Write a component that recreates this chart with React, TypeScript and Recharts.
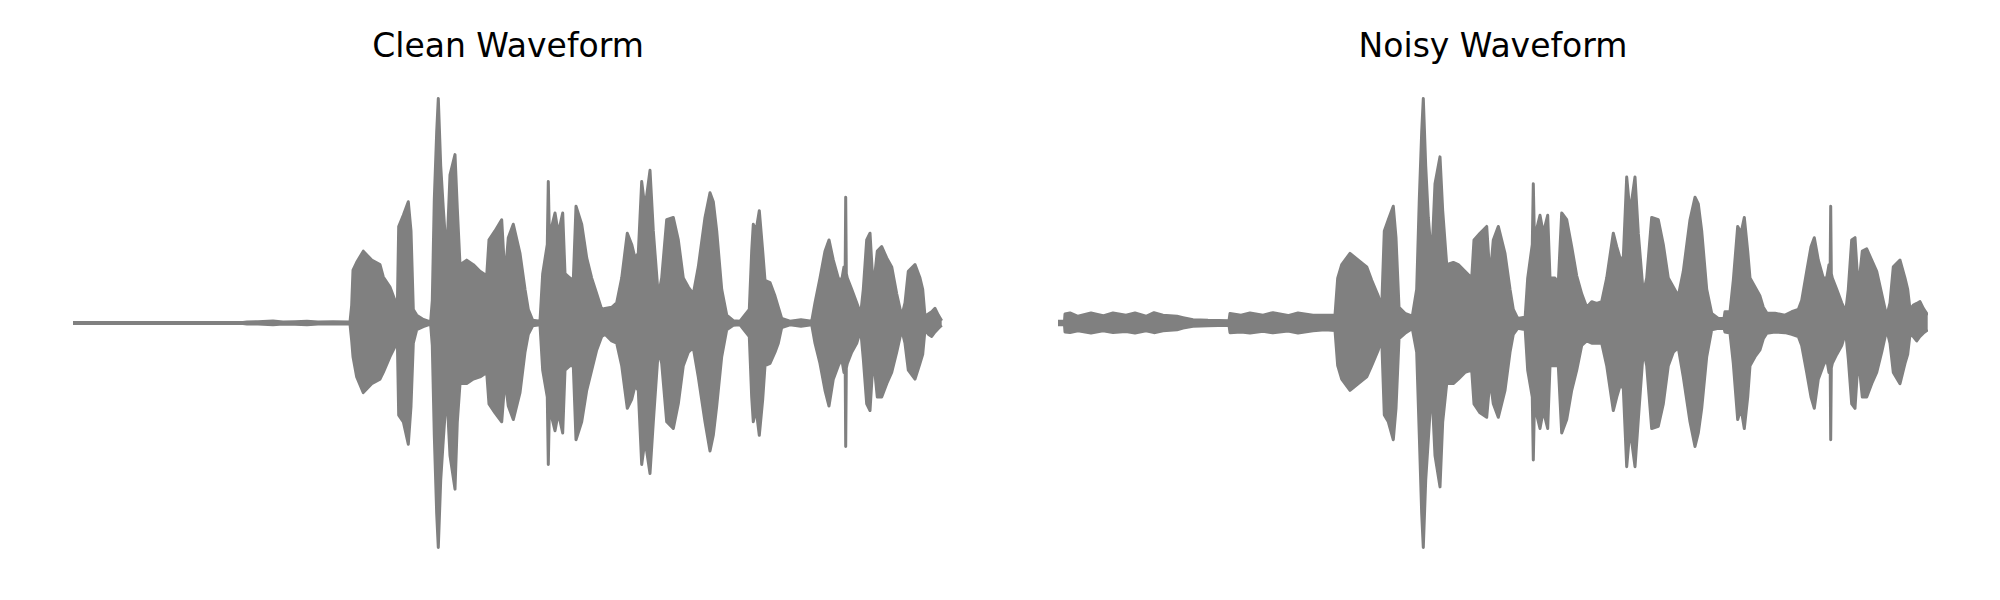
import React from 'react';
import { ComposedChart, Area, XAxis, YAxis } from 'recharts';

// Time in seconds, amplitude normalised to the peak (envelope of the waveform)
const cleanTime = [0, 1.70, 1.74, 1.85, 2.00, 2.10, 2.22, 2.34, 2.45, 2.60, 2.77, 2.787, 2.80, 2.837, 2.903, 2.987, 3.07, 3.103, 3.17, 3.22, 3.243, 3.257, 3.303, 3.353, 3.38, 3.403, 3.437, 3.503, 3.553, 3.577, 3.593, 3.613, 3.637, 3.653, 3.677, 3.703, 3.737, 3.77, 3.82, 3.843, 3.87, 3.937, 4.003, 4.07, 4.137, 4.16, 4.22, 4.287, 4.32, 4.353, 4.403, 4.47, 4.52, 4.553, 4.597, 4.67, 4.697, 4.743, 4.753, 4.763, 4.777, 4.82, 4.853, 4.897, 4.92, 4.97, 5.003, 5.03, 5.087, 5.137, 5.187, 5.237, 5.287, 5.32, 5.387, 5.437, 5.487, 5.543, 5.587, 5.62, 5.653, 5.687, 5.72, 5.77, 5.803, 5.853, 5.887, 5.937, 6.003, 6.053, 6.103, 6.153, 6.203, 6.253, 6.32, 6.37, 6.403, 6.437, 6.487, 6.537, 6.603, 6.67, 6.763, 6.787, 6.803, 6.83, 6.863, 6.897, 6.92, 6.97, 7.02, 7.053, 7.087, 7.17, 7.28, 7.387, 7.42, 7.47, 7.52, 7.56, 7.603, 7.653, 7.687, 7.71, 7.722, 7.727, 7.733, 7.743, 7.787, 7.837, 7.877, 7.903, 7.937, 7.97, 8.003, 8.043, 8.087, 8.137, 8.187, 8.237, 8.287, 8.32, 8.353, 8.42, 8.47, 8.497, 8.52, 8.553, 8.587, 8.62, 8.653, 8.687];
const cleanUpper = [0.002, 0.002, 0.005, 0.006, 0.009, 0.005, 0.006, 0.008, 0.005, 0.006, 0.005, 0.08, 0.235, 0.27, 0.32, 0.28, 0.26, 0.205, 0.16, 0.10, 0.06, 0.43, 0.48, 0.54, 0.41, 0.06, 0.035, 0.016, 0.008, 0.008, 0.10, 0.55, 0.85, 1.0, 0.70, 0.51, 0.29, 0.66, 0.75, 0.51, 0.26, 0.28, 0.26, 0.23, 0.21, 0.37, 0.41, 0.46, 0.20, 0.38, 0.44, 0.31, 0.15, 0.06, 0.012, 0.008, 0.22, 0.35, 0.63, 0.40, 0.41, 0.49, 0.40, 0.49, 0.22, 0.20, 0.19, 0.52, 0.44, 0.29, 0.20, 0.13, 0.06, 0.065, 0.07, 0.09, 0.20, 0.40, 0.35, 0.29, 0.31, 0.63, 0.51, 0.68, 0.41, 0.12, 0.20, 0.46, 0.47, 0.37, 0.20, 0.16, 0.13, 0.25, 0.47, 0.58, 0.54, 0.41, 0.15, 0.035, 0.01, 0.008, 0.06, 0.32, 0.44, 0.41, 0.50, 0.32, 0.19, 0.18, 0.12, 0.07, 0.02, 0.008, 0.015, 0.008, 0.09, 0.20, 0.32, 0.37, 0.28, 0.20, 0.19, 0.25, 0.25, 0.56, 0.22, 0.20, 0.15, 0.09, 0.04, 0.15, 0.37, 0.40, 0.15, 0.32, 0.34, 0.29, 0.25, 0.13, 0.03, 0.09, 0.23, 0.26, 0.20, 0.15, 0.03, 0.04, 0.05, 0.065, 0.035, 0.01];
const cleanLower = [-0.002, -0.002, -0.005, -0.005, -0.008, -0.005, -0.006, -0.008, -0.005, -0.005, -0.005, -0.08, -0.15, -0.24, -0.31, -0.27, -0.25, -0.22, -0.15, -0.105, -0.06, -0.41, -0.44, -0.54, -0.37, -0.09, -0.03, -0.016, -0.008, -0.008, -0.10, -0.50, -0.85, -1.0, -0.70, -0.52, -0.30, -0.59, -0.74, -0.44, -0.27, -0.27, -0.25, -0.24, -0.22, -0.36, -0.40, -0.44, -0.25, -0.37, -0.43, -0.31, -0.13, -0.05, -0.012, -0.008, -0.21, -0.33, -0.63, -0.40, -0.40, -0.48, -0.40, -0.49, -0.21, -0.19, -0.19, -0.52, -0.44, -0.30, -0.21, -0.12, -0.06, -0.05, -0.08, -0.09, -0.19, -0.38, -0.34, -0.28, -0.30, -0.63, -0.52, -0.67, -0.44, -0.12, -0.18, -0.44, -0.47, -0.36, -0.19, -0.13, -0.11, -0.24, -0.44, -0.57, -0.50, -0.37, -0.15, -0.03, -0.01, -0.008, -0.06, -0.33, -0.44, -0.38, -0.50, -0.34, -0.19, -0.18, -0.13, -0.09, -0.02, -0.008, -0.015, -0.008, -0.09, -0.18, -0.30, -0.37, -0.25, -0.19, -0.16, -0.22, -0.20, -0.55, -0.20, -0.18, -0.13, -0.09, -0.03, -0.16, -0.36, -0.39, -0.15, -0.33, -0.33, -0.27, -0.22, -0.13, -0.03, -0.09, -0.21, -0.25, -0.18, -0.14, -0.03, -0.05, -0.06, -0.04, -0.024, -0.01];

const noisyTime = [0, 0.065, 0.07, 0.12, 0.20, 0.33, 0.45, 0.55, 0.68, 0.77, 0.88, 0.96, 1.05, 1.19, 1.25, 1.35, 1.50, 1.71, 1.72, 1.83, 1.92, 2.05, 2.15, 2.30, 2.40, 2.55, 2.67, 2.77, 2.797, 2.837, 2.92, 3.003, 3.087, 3.137, 3.203, 3.237, 3.263, 3.303, 3.353, 3.38, 3.41, 3.47, 3.543, 3.587, 3.613, 3.637, 3.653, 3.677, 3.703, 3.737, 3.77, 3.82, 3.847, 3.887, 3.953, 4.003, 4.07, 4.137, 4.16, 4.22, 4.287, 4.32, 4.353, 4.403, 4.47, 4.52, 4.553, 4.597, 4.653, 4.67, 4.697, 4.743, 4.753, 4.763, 4.777, 4.82, 4.853, 4.897, 4.92, 4.97, 5.003, 5.037, 5.087, 5.137, 5.187, 5.237, 5.287, 5.337, 5.387, 5.437, 5.487, 5.553, 5.587, 5.62, 5.653, 5.687, 5.72, 5.77, 5.803, 5.853, 5.887, 5.937, 6.003, 6.053, 6.103, 6.153, 6.203, 6.253, 6.32, 6.37, 6.403, 6.437, 6.487, 6.537, 6.603, 6.66, 6.67, 6.72, 6.753, 6.797, 6.83, 6.863, 6.897, 6.92, 6.97, 7.02, 7.053, 7.087, 7.17, 7.27, 7.337, 7.403, 7.437, 7.487, 7.53, 7.563, 7.603, 7.653, 7.687, 7.71, 7.722, 7.727, 7.733, 7.743, 7.787, 7.837, 7.877, 7.903, 7.937, 7.97, 8.003, 8.043, 8.087, 8.137, 8.187, 8.237, 8.287, 8.32, 8.353, 8.42, 8.47, 8.497, 8.52, 8.553, 8.587, 8.62, 8.653, 8.697];
const noisyUpper = [0.008, 0.008, 0.04, 0.045, 0.03, 0.045, 0.032, 0.045, 0.035, 0.045, 0.03, 0.046, 0.035, 0.03, 0.024, 0.015, 0.012, 0.01, 0.042, 0.035, 0.045, 0.035, 0.046, 0.033, 0.045, 0.035, 0.035, 0.035, 0.20, 0.26, 0.31, 0.28, 0.25, 0.19, 0.12, 0.07, 0.41, 0.46, 0.52, 0.38, 0.07, 0.043, 0.03, 0.15, 0.55, 0.85, 1.0, 0.70, 0.47, 0.28, 0.62, 0.74, 0.50, 0.26, 0.27, 0.26, 0.23, 0.20, 0.37, 0.40, 0.43, 0.20, 0.37, 0.43, 0.31, 0.15, 0.06, 0.02, 0.025, 0.015, 0.20, 0.35, 0.62, 0.40, 0.40, 0.48, 0.40, 0.48, 0.20, 0.20, 0.18, 0.49, 0.46, 0.34, 0.21, 0.13, 0.07, 0.095, 0.087, 0.095, 0.20, 0.40, 0.34, 0.29, 0.29, 0.65, 0.49, 0.65, 0.40, 0.13, 0.20, 0.47, 0.46, 0.35, 0.20, 0.16, 0.12, 0.23, 0.46, 0.56, 0.53, 0.41, 0.15, 0.043, 0.02, 0.02, 0.05, 0.05, 0.19, 0.43, 0.40, 0.47, 0.32, 0.20, 0.16, 0.12, 0.07, 0.045, 0.043, 0.035, 0.05, 0.06, 0.10, 0.23, 0.34, 0.38, 0.28, 0.20, 0.20, 0.26, 0.26, 0.52, 0.22, 0.20, 0.15, 0.09, 0.05, 0.15, 0.37, 0.38, 0.15, 0.32, 0.33, 0.28, 0.23, 0.13, 0.03, 0.09, 0.25, 0.28, 0.20, 0.15, 0.06, 0.08, 0.087, 0.095, 0.065, 0.035];
const noisyLower = [-0.008, -0.008, -0.04, -0.042, -0.035, -0.045, -0.035, -0.042, -0.038, -0.045, -0.035, -0.043, -0.035, -0.03, -0.022, -0.015, -0.012, -0.01, -0.043, -0.04, -0.045, -0.037, -0.044, -0.036, -0.045, -0.035, -0.03, -0.033, -0.19, -0.25, -0.30, -0.27, -0.24, -0.19, -0.12, -0.07, -0.41, -0.44, -0.52, -0.38, -0.07, -0.046, -0.024, -0.13, -0.50, -0.85, -1.0, -0.70, -0.52, -0.28, -0.59, -0.73, -0.44, -0.27, -0.27, -0.25, -0.22, -0.21, -0.36, -0.40, -0.42, -0.25, -0.36, -0.42, -0.30, -0.13, -0.05, -0.024, -0.028, -0.015, -0.21, -0.33, -0.61, -0.39, -0.39, -0.47, -0.39, -0.47, -0.19, -0.19, -0.19, -0.49, -0.43, -0.30, -0.21, -0.10, -0.08, -0.09, -0.09, -0.09, -0.19, -0.39, -0.33, -0.28, -0.29, -0.64, -0.47, -0.64, -0.43, -0.12, -0.19, -0.47, -0.46, -0.36, -0.19, -0.13, -0.11, -0.24, -0.44, -0.55, -0.49, -0.38, -0.15, -0.03, -0.024, -0.024, -0.04, -0.045, -0.18, -0.43, -0.38, -0.47, -0.33, -0.19, -0.15, -0.12, -0.07, -0.046, -0.04, -0.043, -0.05, -0.06, -0.10, -0.22, -0.33, -0.38, -0.25, -0.19, -0.16, -0.22, -0.20, -0.52, -0.20, -0.18, -0.14, -0.10, -0.04, -0.16, -0.36, -0.38, -0.15, -0.33, -0.33, -0.27, -0.22, -0.13, -0.03, -0.09, -0.22, -0.27, -0.18, -0.14, -0.05, -0.06, -0.08, -0.06, -0.045, -0.03];

const panelTitles = ['Clean Waveform', 'Noisy Waveform'];
const timeDomain: [number, number] = [0, 8.7];

const build = (t: number[], up: number[], lo: number[]) =>
  t.map((x, i) => ({ t: x, range: [lo[i], up[i]] }));

const cleanData = build(cleanTime, cleanUpper, cleanLower);
const noisyData = build(noisyTime, noisyUpper, noisyLower);

const GRAY = '#808080';

function Wave({ data, left, margin }: { data: any[]; left: number; margin: any }) {
  return (
    <div style={{ position: 'absolute', left, top: 0, width: 1000, height: 600 }}>
      <ComposedChart width={1000} height={600} data={data} margin={margin}>
        <XAxis dataKey="t" type="number" domain={timeDomain} hide allowDataOverflow />
        <YAxis type="number" domain={[-1, 1]} hide />
        <Area
          dataKey="range"
          type="linear"
          stroke={GRAY}
          strokeWidth={3}
          strokeLinejoin="round"
          fill={GRAY}
          fillOpacity={1}
          dot={false}
          activeDot={false}
          isAnimationActive={false}
        />
      </ComposedChart>
    </div>
  );
}

export default function App() {
  return (
    <div style={{ position: 'absolute', left: 0, top: 0, width: 2000, height: 600, background: '#fff' }}>
      <Wave data={cleanData} left={0} margin={{ top: 98.5, bottom: 52.5, left: 73, right: 57 }} />
      <Wave data={noisyData} left={1000} margin={{ top: 98.5, bottom: 52.5, left: 58, right: 72 }} />
      <svg width={2000} height={600} style={{ position: 'absolute', left: 0, top: 0, pointerEvents: 'none' }}>
        <text x={508} y={57} textAnchor="middle" fontSize={33} fontFamily="DejaVu Sans" fill="#000">
          {panelTitles[0]}
        </text>
        <text x={1493} y={57} textAnchor="middle" fontSize={33} fontFamily="DejaVu Sans" fill="#000">
          {panelTitles[1]}
        </text>
      </svg>
    </div>
  );
}
